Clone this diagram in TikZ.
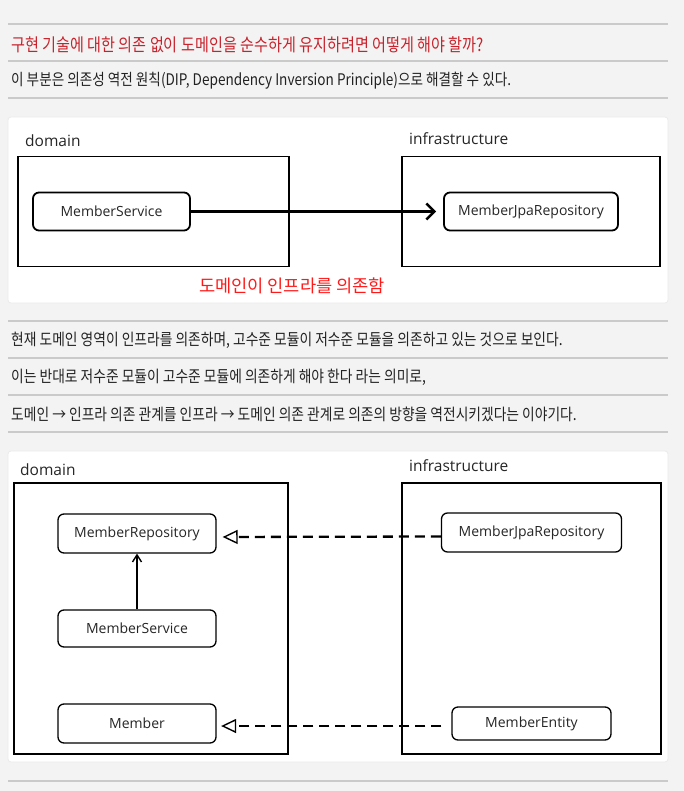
\documentclass[tikz,border=0pt]{standalone}
\usepackage{fontspec}
\setmainfont{Open Sans}
\newfontfamily\kr[FakeStretch=0.85]{Noto Sans CJK KR}
\newfontfamily\krn{Noto Sans CJK KR}
\usetikzlibrary{arrows.meta}
\definecolor{bg}{HTML}{F3F3F3}
\definecolor{rulec}{HTML}{CACACA}
\definecolor{titlered}{HTML}{C8232C}
\definecolor{labelred}{HTML}{FF1A1A}
\definecolor{txtc}{HTML}{222222}
\tikzset{
  rulel/.style={draw=rulec, line width=1.2pt},
  panel/.style={fill=white, draw=black!8, line width=0.8pt, rounded corners=3pt},
  bodytxt/.style={anchor=west, inner sep=0pt, text=txtc, font=\kr\fontsize{16.2}{19}\selectfont},
  titletxt/.style={anchor=west, inner sep=0pt, text=titlered, font=\kr\fontsize{17.8}{21}\selectfont},
  pkgA/.style={draw=black, line width=1.8pt, inner sep=0pt},
  pkgB/.style={draw=black, line width=1.4pt, inner sep=0pt},
  clsA/.style={draw=black, line width=1.8pt, rounded corners=6pt, inner sep=0pt, font=\fontsize{14}{16}\selectfont, text=black!85},
  clsB/.style={draw=black, line width=1.3pt, rounded corners=6pt, inner sep=0pt, font=\fontsize{14}{16}\selectfont, text=black!85},
  pkglabel/.style={anchor=base west, inner sep=0pt, font=\fontsize{15.5}{18}\selectfont, text=black!85},
  realize/.style={dashed, dash pattern=on 10pt off 6pt, line width=2.3pt, -{Triangle[open, length=15pt, width=14pt, line width=1.4pt]}},
}
\begin{document}
\begin{tikzpicture}[x=1pt, y=-1pt]
\useasboundingbox (0,0) rectangle (684,791);
\fill[bg] (0,0) rectangle (684,791);

% top section rules and texts
\draw[rulel] (8,24) -- (668,24);
\node[titletxt] (title) at (11,45) {구현 기술에 대한 의존 없이 도메인을 순수하게 유지하려면 어떻게 해야 할까?};
\draw[rulel] (8,61) -- (668,61);
\node[bodytxt, font=\kr\fontsize{16}{19}\selectfont] (intro) at (11,80.5) {이 부분은 의존성 역전 원칙(DIP, Dependency Inversion Principle)으로 해결할 수 있다.};
\draw[rulel] (8,98) -- (668,98);

% first diagram panel
\draw[panel] (8,117) rectangle (668,303);
\node[pkgA, minimum width=271pt, minimum height=110pt] (domA) at (153.5,211.5) {};
\node[pkgA, minimum width=258pt, minimum height=110pt] (infA) at (531,211.5) {};
\node[pkglabel] (domAl) at (25,147) {domain};
\node[pkglabel] (infAl) at (409,144.5) {infrastructure};
\node[clsA, minimum width=157pt, minimum height=38pt] (svcA) at (111.5,211.5) {MemberService};
\node[clsA, minimum width=174pt, minimum height=38pt] (jpaA) at (531,211.5) {MemberJpaRepository};
\draw[line width=2.5pt, -{Straight Barb[length=8pt, width=16pt, line width=2.5pt]}, shorten >=7pt] (svcA.east) -- (jpaA.west);
\node[inner sep=0pt, text=labelred, font=\krn\fontsize{17.6}{20}\selectfont] (depl) at (292,285.5) {도메인이 인프라를 의존함};

% middle section
\draw[rulel] (8,321) -- (668,321);
\node[bodytxt] (p1) at (11,340.5) {현재 도메인 영역이 인프라를 의존하며, 고수준 모듈이 저수준 모듈을 의존하고 있는 것으로 보인다.};
\draw[rulel] (8,358) -- (668,358);
\node[bodytxt] (p2) at (11,377.5) {이는 반대로 저수준 모듈이 고수준 모듈에 의존하게 해야 한다 라는 의미로,};
\draw[rulel] (8,395) -- (668,395);
\node[bodytxt] (p3) at (11,414.5) {도메인 → 인프라 의존 관계를 인프라 → 도메인 의존 관계로 의존의 방향을 역전시키겠다는 이야기다.};
\draw[rulel] (8,432) -- (668,432);

% second diagram panel
\draw[panel] (8,451) rectangle (668,762);
\node[pkgB, minimum width=274pt, minimum height=271pt] (domB) at (151,618.5) {};
\node[pkgB, minimum width=259pt, minimum height=271pt] (infB) at (531.5,618.5) {};
\node[pkglabel] (domBl) at (20,475) {domain};
\node[pkglabel] (infBl) at (409,471.5) {infrastructure};
\node[clsB, minimum width=158pt, minimum height=39pt] (repoB) at (137,533.5) {MemberRepository};
\node[clsB, minimum width=180pt, minimum height=39pt] (jpaB) at (531.5,532.5) {MemberJpaRepository};
\node[clsB, minimum width=158pt, minimum height=37pt] (svcB) at (137,628.5) {MemberService};
\node[clsB, minimum width=158pt, minimum height=39pt] (memB) at (137,723.5) {Member};
\node[clsB, minimum width=159pt, minimum height=33pt] (entB) at (531.5,723.5) {MemberEntity};
\draw[line width=1.4pt, -{Straight Barb[length=7pt, width=9pt, line width=1.4pt]}] (svcB.north) -- (repoB.south);
\draw[realize, shorten >=6pt] ([yshift=-4pt]jpaB.west) -- ([yshift=-3.5pt]repoB.east);
\draw[realize, shorten <=10pt, shorten >=4.5pt] ([yshift=-2.5pt]entB.west) -- ([yshift=-2.5pt]memB.east);

\draw[rulel] (8,781) -- (668,781);
\end{tikzpicture}
\end{document}
